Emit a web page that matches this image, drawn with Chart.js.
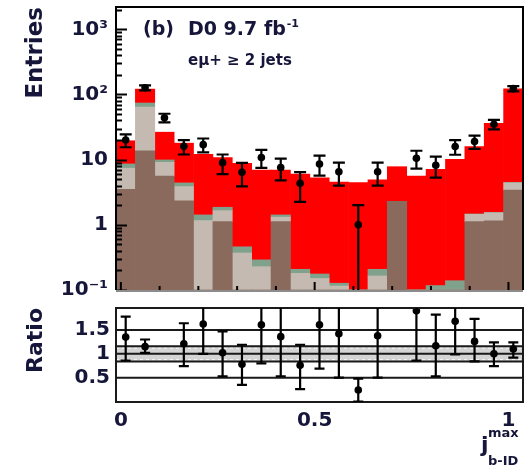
<!DOCTYPE html>
<html>
<head>
<meta charset="utf-8">
<script src="https://cdn.jsdelivr.net/npm/chart.js@4/dist/chart.umd.min.js"></script>
<style>
  html, body { margin: 0; padding: 0; background: #fff; width: 527px; height: 468px; overflow: hidden; position: relative; }
  canvas { position: absolute; left: 0; }
  #top { top: -20px; }
  #bot { top: 290px; }
</style>
</head>
<body>
<canvas id="top" width="527" height="330"></canvas>
<canvas id="bot" width="527" height="178"></canvas>
<script>
// Bin centres of j^max_b-ID (21 bins, width 0.05)
const binCenters = [0.0125, 0.0625, 0.1125, 0.1625, 0.2125, 0.2625, 0.3125, 0.3625, 0.4125, 0.4625,
                    0.5125, 0.5625, 0.6125, 0.6625, 0.7125, 0.7625, 0.8125, 0.8625, 0.9125, 0.9625, 1.0125];

// Stacked predictions per bin (bottom to top)
const brownBkg = [3.5, 13.7, 5.6, 2.33, 0, 1.12, 0, 0, 1.12, 0, 0, 0, 0, 0, 2.3, 0, 0, 0, 1.12, 1.15, 3.4];
const beigeBkg = [3.9, 50.3, 3.5, 1.53, 1.16, 0.53, 0.37, 0.228, 0.19, 0.18, 0.15, 0.115, 0, 0.164, 0, 0, 0, 0, 0.33, 0.38, 1.0];
const tealBkg  = [1.2, 10, 0.8, 0.54, 0.26, 0.21, 0.09, 0.062, 0.11, 0.028, 0.026, 0.012, 0, 0.044, 0, 0, 0.117, 0.139, 0.02, 0.02, 0.08];
const redSig   = [10.9, 47, 16.5, 13.5, 10.7, 8.9, 8.3, 6.6, 5.5, 5.8, 5.1, 4.4, 4.45, 4.7, 5.5, 5.6, 7.0, 10.0, 14.4, 34.5, 117.5];

// Observed entries and their uncertainties
const dataCounts = [20, 127, 44, 16, 17, 9, 6.4, 10.8, 7.6, 4.35, 8.6, 6.5, 1, 6.5, null, 10.5, 8.2, 15.9, 19, 35, 123];
const dataErr    = [4.5, 11, 6.6, 4, 4.1, 3, 2.5, 3.3, 2.8, 2.1, 2.9, 2.5, 1, 2.5, 0, 3.2, 2.9, 4, 4.4, 5.9, 11];

// Data / prediction ratio with asymmetric uncertainties
const ratioValues  = [1.35, 1.15, null, 1.21, 1.625, 1.02, 0.78, 1.61, 1.36, 0.76, 1.61, 1.42, 0.24, 1.38, null, 1.9, 1.17, 1.68, 1.26, 1.0, 1.10];
const ratioErrUp   = [0.43, 0.15, 0, 0.43, 0.5, 0.45, 0.41, 0.8, 0.84, 0.43, 0.9, 0.9, 0.24, 0.9, 0, 1.0, 0.65, 0.7, 0.47, 0.24, 0.14];
const ratioErrDown = [0.49, 0.13, 0, 0.47, 0.625, 0.49, 0.43, 0.81, 0.83, 0.5, 0.92, 0.92, 0.24, 0.88, 0, 1.04, 0.64, 0.69, 0.42, 0.26, 0.18];
const ratioBand    = [0.84, 1.16];
const ratioBandInner = [0.88, 1.12];

// Axis ticks
const yTickValues = [0.1, 1, 10, 100, 1000];
const yTickLabels = ['10\u207B\u00B9', '1', '10', '10\u00B2', '10\u00B3'];
const ratioTickValues = [0.5, 1, 1.5];
const ratioTickLabels = ['0.5', '1', '1.5'];
const xTickValues = [0, 0.5, 1];
const xTickLabels = ['0', '0.5', '1'];

const FONT = 'DejaVu Sans';
const TXT = '#16163a';
const COL = { brown: '#8a6a5c', beige: '#c5bab1', teal: '#80a18c', red: '#ff0000' };
const X_MIN = -0.0125, X_MAX = 1.0375;

// Vertical error bars with caps, clipped to the plot area
const errorBars = {
  id: 'errorBars',
  afterDatasetsDraw(chart, args, o) {
    const { ctx, chartArea: a, scales: { x, y } } = chart;
    ctx.save();
    ctx.beginPath();
    ctx.rect(a.left, a.top, a.right - a.left, a.bottom - a.top);
    ctx.clip();
    ctx.strokeStyle = '#000';
    ctx.lineWidth = 2.2;
    o.values.forEach((v, i) => {
      if (v === null || v === undefined) return;
      const px = x.getPixelForValue(o.centers[i]);
      const hiV = v + o.up[i];
      const loV = v - o.down[i];
      const pHi = y.getPixelForValue(hiV);
      const pLo = (loV > y.min) ? y.getPixelForValue(loV) : a.bottom + 5;
      ctx.beginPath();
      ctx.moveTo(px, pHi); ctx.lineTo(px, pLo);
      ctx.moveTo(px - o.cap, pHi); ctx.lineTo(px + o.cap, pHi);
      if (loV > y.min) { ctx.moveTo(px - o.cap, pLo); ctx.lineTo(px + o.cap, pLo); }
      ctx.stroke();
    });
    ctx.restore();
  }
};

// Frame and inward tick marks of the main panel
const topFrame = {
  id: 'topFrame',
  afterDatasetsDraw(chart) {
    const { ctx, chartArea: a, scales: { x, y } } = chart;
    ctx.save();
    ctx.strokeStyle = '#000';
    ctx.lineWidth = 2;
    // y ticks: decades long, sub-decades short
    ctx.beginPath();
    yTickValues.forEach(d => {
      for (let k = 1; k <= 9; k++) {
        const v = d * k;
        if (v < y.min || v > y.max) continue;
        const py = Math.round(y.getPixelForValue(v)) + 0.5;
        const len = k === 1 ? 11 : 6;
        ctx.moveTo(a.left, py); ctx.lineTo(a.left + len, py);
      }
    });
    // x ticks along the bottom edge
    for (let k = 0; k <= 10; k++) {
      const v = k / 10;
      const px = x.getPixelForValue(v);
      const len = (k % 5 === 0) ? 8 : 4;
      ctx.moveTo(px, a.bottom); ctx.lineTo(px, a.bottom - len);
    }
    ctx.stroke();
    // frame
    ctx.beginPath();
    ctx.moveTo(a.left, a.bottom); ctx.lineTo(a.left, a.top);
    ctx.lineTo(a.right, a.top); ctx.lineTo(a.right, a.bottom);
    ctx.stroke();
    ctx.strokeStyle = '#8c8c8c';
    ctx.beginPath();
    ctx.moveTo(a.left, a.bottom + 1); ctx.lineTo(a.right, a.bottom + 1);
    ctx.stroke();
    ctx.restore();
  },
  afterDraw(chart) {
    const { ctx, chartArea: a } = chart;
    const t = a.top;
    ctx.save();
    ctx.fillStyle = TXT;
    ctx.textBaseline = 'alphabetic';
    ctx.font = `bold 19px "${FONT}"`;
    ctx.fillText('(b)', 143, t + 28);
    ctx.fillText('D0 9.7 fb', 188, t + 28);
    const w = ctx.measureText('D0 9.7 fb').width;
    ctx.font = `bold 11px "${FONT}"`;
    ctx.fillText('-1', 188 + w + 1, t + 20);
    ctx.font = `bold 15px "${FONT}"`;
    ctx.fillText('e\u03BC+ \u2265 2 jets', 188, t + 58);
    ctx.restore();
  }
};

// Ratio panel: uncertainty band, reference lines, frame, axis title
const ratioDecor = {
  id: 'ratioDecor',
  beforeDatasetsDraw(chart) {
    const { ctx, chartArea: a, scales: { y } } = chart;
    ctx.save();
    const yb1 = y.getPixelForValue(ratioBand[1]);
    const yb0 = y.getPixelForValue(ratioBand[0]);
    ctx.fillStyle = '#d4d4d4';
    ctx.fillRect(a.left, yb1, a.right - a.left, yb0 - yb1);
    ctx.strokeStyle = '#f4f4f4';
    ctx.lineWidth = 1.2;
    ctx.setLineDash([3, 3]);
    ctx.beginPath();
    ratioBandInner.forEach(v => {
      const py = y.getPixelForValue(v);
      ctx.moveTo(a.left, py); ctx.lineTo(a.right, py);
    });
    ctx.stroke();
    ctx.setLineDash([]);
    ctx.strokeStyle = '#1a1a1a';
    ctx.lineWidth = 2;
    ctx.beginPath();
    [...ratioTickValues, ...ratioBand].forEach(v => {
      const py = y.getPixelForValue(v);
      ctx.moveTo(a.left, py); ctx.lineTo(a.right, py);
    });
    ctx.stroke();
    ctx.restore();
  },
  afterDatasetsDraw(chart) {
    const { ctx, chartArea: a } = chart;
    ctx.save();
    ctx.strokeStyle = '#1a1a1a';
    ctx.lineWidth = 2;
    ctx.strokeRect(a.left, a.top, a.right - a.left, a.bottom - a.top);
    ctx.restore();
  },
  afterDraw(chart) {
    const { ctx } = chart;
    ctx.save();
    ctx.fillStyle = TXT;
    ctx.textBaseline = 'alphabetic';
    ctx.font = `bold 22px "${FONT}"`;
    ctx.fillText('j', 481, 162);
    ctx.font = `bold 13px "${FONT}"`;
    ctx.fillText('max', 488, 147);
    ctx.fillText('b-ID', 488, 175);
    ctx.restore();
  }
};

const tickFont = { family: FONT, size: 20, weight: 'bold' };
const points = vals => binCenters.map((x, i) => ({ x, y: vals[i] }));
const barDs = (label, vals, color) => ({
  label, data: points(vals), backgroundColor: color, borderWidth: 0,
  stack: 'prediction', categoryPercentage: 1, barPercentage: 1
});

new Chart(document.getElementById('top'), {
  type: 'bar',
  data: {
    datasets: [
      barDs('brown', brownBkg, COL.brown),
      barDs('beige', beigeBkg, COL.beige),
      barDs('teal', tealBkg, COL.teal),
      barDs('red', redSig, COL.red),
      { type: 'scatter', label: 'Data', data: points(dataCounts), order: -1,
        pointRadius: 3.8, pointBackgroundColor: '#000', pointBorderWidth: 0 }
    ]
  },
  options: {
    responsive: false,
    animation: false,
    layout: { padding: { top: 27, right: 4, bottom: 20, left: 0 } },
    scales: {
      x: { type: 'linear', min: X_MIN, max: X_MAX, offset: false, stacked: true, display: false },
      y: {
        type: 'logarithmic', min: 0.1, max: 2200, stacked: true, bounds: 'data',
        afterFit: s => { s.width = 116; },
        afterBuildTicks: s => { s.ticks = yTickValues.map(v => ({ value: v })); },
        grid: { display: false, drawTicks: false },
        border: { display: false },
        ticks: { autoSkip: false, padding: 8, color: TXT, font: tickFont,
                 callback: (v, i) => yTickLabels[i] },
        title: { display: true, text: 'Entries', align: 'end', color: TXT,
                 font: { family: FONT, size: 23, weight: 'bold' }, padding: { top: 22, bottom: 0 } }
      }
    },
    plugins: {
      legend: { display: false },
      tooltip: { enabled: false },
      errorBars: { centers: binCenters, values: dataCounts, up: dataErr, down: dataErr, cap: 6 }
    }
  },
  plugins: [topFrame, errorBars]
});

new Chart(document.getElementById('bot'), {
  type: 'scatter',
  data: {
    datasets: [
      { label: 'Ratio', data: points(ratioValues), pointRadius: 3.8,
        pointBackgroundColor: '#000', pointBorderWidth: 0 }
    ]
  },
  options: {
    responsive: false,
    animation: false,
    layout: { padding: { top: 17, right: 4, bottom: 0, left: 0 } },
    scales: {
      x: {
        type: 'linear', min: X_MIN, max: X_MAX, bounds: 'data',
        afterFit: s => { s.height = 66; },
        afterBuildTicks: s => { s.ticks = xTickValues.map(v => ({ value: v })); },
        grid: { display: false, drawTicks: false },
        border: { display: false },
        ticks: { autoSkip: false, maxRotation: 0, padding: 7, color: TXT, font: tickFont,
                 callback: (v, i) => xTickLabels[i] }
      },
      y: {
        type: 'linear', min: -0.01, max: 1.96, bounds: 'data',
        afterFit: s => { s.width = 116; },
        afterBuildTicks: s => { s.ticks = ratioTickValues.map(v => ({ value: v })); },
        grid: { display: false, drawTicks: false },
        border: { display: false },
        ticks: { autoSkip: false, padding: 6, color: TXT, font: tickFont,
                 callback: (v, i) => ratioTickLabels[i] },
        title: { display: true, text: 'Ratio', align: 'end', color: TXT,
                 font: { family: FONT, size: 22, weight: 'bold' }, padding: { top: 23, bottom: 0 } }
      }
    },
    plugins: {
      legend: { display: false },
      tooltip: { enabled: false },
      errorBars: { centers: binCenters, values: ratioValues, up: ratioErrUp, down: ratioErrDown, cap: 5 }
    }
  },
  plugins: [ratioDecor, errorBars]
});
</script>
</body>
</html>
